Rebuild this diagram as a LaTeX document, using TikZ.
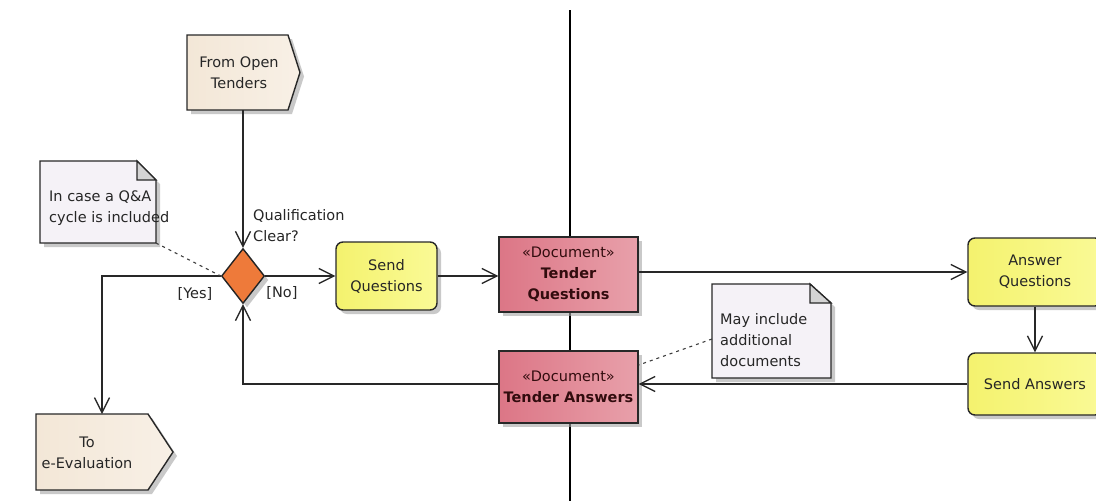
\documentclass[tikz,border=0pt]{standalone}
\usepackage{fontspec}
\setmainfont{DejaVu Sans}
\usetikzlibrary{shapes.geometric,arrows.meta,shadows,calc}

\definecolor{edge}{RGB}{40,40,40}
\definecolor{yelA}{RGB}{244,242,110}
\definecolor{yelB}{RGB}{250,250,150}
\definecolor{pinkA}{RGB}{220,118,134}
\definecolor{pinkB}{RGB}{232,160,170}
\definecolor{beigeA}{RGB}{243,231,215}
\definecolor{beigeB}{RGB}{248,240,230}
\definecolor{notefill}{RGB}{245,242,247}
\definecolor{foldfill}{RGB}{212,212,212}
\definecolor{decision}{RGB}{238,122,58}
\definecolor{doctext}{RGB}{50,12,14}

\tikzset{
  shd/.style={drop shadow={shadow xshift=4pt,shadow yshift=-4pt,fill=black!35,opacity=.6}},
  conn/.style={draw=edge,line width=1.3pt},
  arr/.style={conn,-{Straight Barb[length=15pt,width=15pt]}},
  note link/.style={draw=edge!90,line width=1.1pt,dash pattern=on 3pt off 4pt},
  anchorbox/.style={inner sep=0pt,outer sep=0pt,minimum width=#1},
  actionbox/.style={draw=edge,line width=1.4pt,rounded corners=7pt,shd,
    left color=yelA,right color=yelB,align=center,inner sep=0pt,text=black!85},
  docbox/.style={draw=edge,line width=1.4pt,shd,left color=pinkA,right color=pinkB,
    align=center,inner sep=0pt,text=doctext},
  signalshape/.style={draw=edge,line width=1.4pt,shd,left color=beigeA,right color=beigeB},
  noteshape/.style={draw=edge,line width=1.3pt,shd,fill=notefill},
  foldshape/.style={draw=edge,line width=1.3pt,fill=foldfill},
  label/.style={inner sep=0pt,align=left,text=black!85},
}

\begin{document}
\begin{tikzpicture}[x=1pt,y=-1pt,font=\fontsize{14.5}{21}\selectfont]
\clip (0,0) rectangle (1096,501);
\fill[white] (0,0) rectangle (1096,501);

% swimlane divider
\coordinate (laneTop) at (570,10);
\coordinate (laneBot) at (570,501);
\draw[draw=black,line width=1.4pt] (laneTop) -- (laneBot);

% incoming signal: From Open Tenders
\node (fot) [anchorbox=101pt,minimum height=75pt] at (237.5,72.5) {};
\path[signalshape] (fot.north west) -- (fot.north east)
  -- ($(fot.east)+(12,0)$) -- (fot.south east) -- (fot.south west) -- cycle;
\node (fottext) [align=center,inner sep=0pt,text=black!85] at (239,72.5) {From Open\\Tenders};

% outgoing signal: To e-Evaluation
\node (toe) [anchorbox=112pt,minimum height=76pt] at (92,452) {};
\path[signalshape] (toe.north west) -- (toe.north east)
  -- ($(toe.east)+(25,0)$) -- (toe.south east) -- (toe.south west) -- cycle;
\node (toetext) [align=center,inner sep=0pt,text=black!85] at (87,452.5) {To\\e-Evaluation};

% decision
\node (dia) [diamond,aspect=0.78,minimum width=43pt,minimum height=55pt,inner sep=0pt,
  draw=edge!90!black,line width=1.4pt,fill=decision,shd] at (243,276) {};

% actions
\node (sq) [actionbox,minimum width=101pt,minimum height=68pt] at (386.5,276) {Send\\Questions};
\node (aq) [actionbox,minimum width=134pt,minimum height=68pt] at (1035,272) {Answer\\Questions};
\node (sa) [actionbox,minimum width=134pt,minimum height=62pt] at (1035,384) {Send Answers};

% documents
\node (tq) [docbox,minimum width=139pt,minimum height=75pt] at (568.5,274.5)
  {«Document»\\\textbf{Tender}\\\textbf{Questions}};
\node (ta) [docbox,minimum width=139pt,minimum height=72pt] at (568.5,387)
  {«Document»\\\textbf{Tender Answers}};

% notes
\node (n1) [anchorbox=116pt,minimum height=82pt] at (98,202) {};
\path[noteshape] (n1.north west) -- ($(n1.north east)+(-19,0)$)
  -- ($(n1.north east)+(0,19)$) -- (n1.south east) -- (n1.south west) -- cycle;
\path[foldshape] ($(n1.north east)+(-19,0)$) -- ($(n1.north east)+(-19,19)$)
  -- ($(n1.north east)+(0,19)$) -- cycle;
\node (n1text) [label,anchor=west] at (49,208) {In case a Q\&A\\cycle is included};

\node (n2) [anchorbox=119pt,minimum height=94pt] at (771.5,331) {};
\path[noteshape] (n2.north west) -- ($(n2.north east)+(-21,0)$)
  -- ($(n2.north east)+(0,19)$) -- (n2.south east) -- (n2.south west) -- cycle;
\path[foldshape] ($(n2.north east)+(-21,0)$) -- ($(n2.north east)+(-21,19)$)
  -- ($(n2.north east)+(0,19)$) -- cycle;
\node (n2text) [label,anchor=west] at (720,340) {May include\\additional\\documents};

% guard and decision labels
\node (qlabel) [label,anchor=west] at (253,226) {Qualification\\Clear?};
\node (yes) [label] at (195,294) {[Yes]};
\node (no) [label] at (282,293) {[No]};

% flows
\draw[arr] (fot.south -| dia.north) -- (dia.north);
\draw[arr] (dia.east) -- (sq.west |- dia.east);
\draw[arr] (dia.west) -| ($(toe.north)+(10,0)$);
\draw[arr] (sq.east) -- (sq.east -| tq.west);
\draw[arr] (tq.east |- aq.west) -- (aq.west);
\draw[arr] (aq.south) -- (sa.north);
\draw[arr] (sa.west) -- (sa.west -| ta.east);
\draw[arr] ($(ta.west)+(0,-3)$) -| (dia.south);

% note attachments
\draw[note link] (n1.south east) -- (dia.west);
\draw[note link] ($(n2.west)+(0,8)$) -- ($(ta.north east)!0.2!(ta.south east)$);
\end{tikzpicture}
\end{document}
